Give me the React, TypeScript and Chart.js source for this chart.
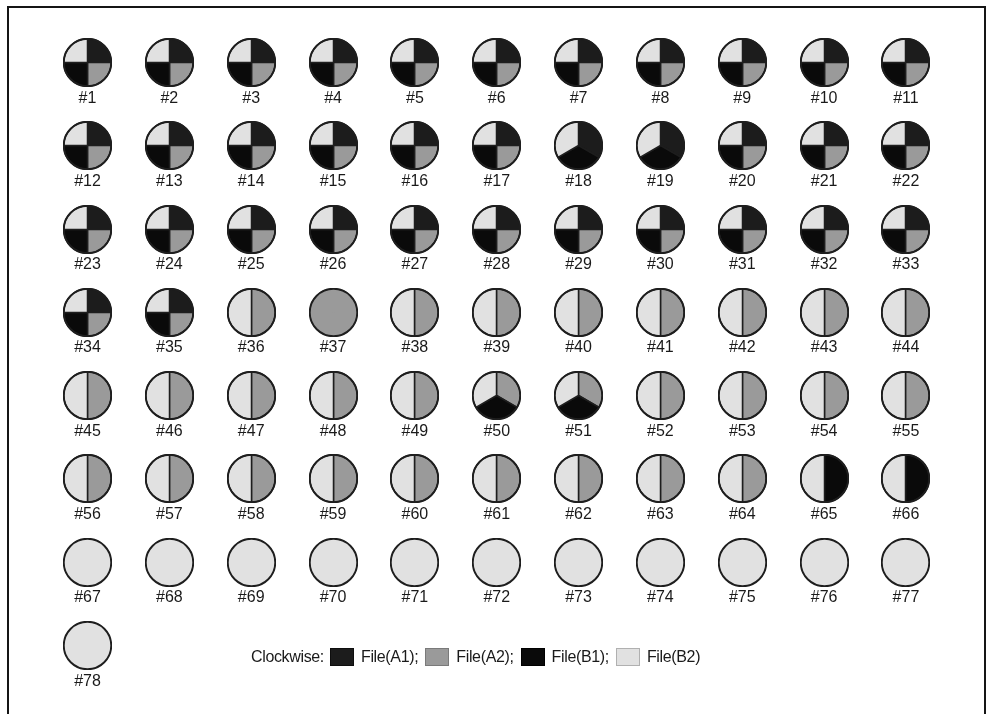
import React, { useEffect, useRef } from "react";
import { Chart, registerables } from "chart.js";

Chart.register(...registerables);

const categories = [
  "#1", "#2", "#3", "#4", "#5", "#6", "#7", "#8", "#9", "#10", "#11",
  "#12", "#13", "#14", "#15", "#16", "#17", "#18", "#19", "#20", "#21", "#22",
  "#23", "#24", "#25", "#26", "#27", "#28", "#29", "#30", "#31", "#32", "#33",
  "#34", "#35", "#36", "#37", "#38", "#39", "#40", "#41", "#42", "#43", "#44",
  "#45", "#46", "#47", "#48", "#49", "#50", "#51", "#52", "#53", "#54", "#55",
  "#56", "#57", "#58", "#59", "#60", "#61", "#62", "#63", "#64", "#65", "#66",
  "#67", "#68", "#69", "#70", "#71", "#72", "#73", "#74", "#75", "#76", "#77",
  "#78",
];

const seriesNames = ["File(A1)", "File(A2)", "File(B1)", "File(B2)"];

const fileA1 = [
  1, 1, 1, 1, 1, 1, 1, 1, 1, 1, 1,
  1, 1, 1, 1, 1, 1, 1, 1, 1, 1, 1,
  1, 1, 1, 1, 1, 1, 1, 1, 1, 1, 1,
  1, 1, 0, 0, 0, 0, 0, 0, 0, 0, 0,
  0, 0, 0, 0, 0, 0, 0, 0, 0, 0, 0,
  0, 0, 0, 0, 0, 0, 0, 0, 0, 0, 0,
  0, 0, 0, 0, 0, 0, 0, 0, 0, 0, 0,
  0,
];

const fileA2 = [
  1, 1, 1, 1, 1, 1, 1, 1, 1, 1, 1,
  1, 1, 1, 1, 1, 1, 0, 0, 1, 1, 1,
  1, 1, 1, 1, 1, 1, 1, 1, 1, 1, 1,
  1, 1, 1, 1, 1, 1, 1, 1, 1, 1, 1,
  1, 1, 1, 1, 1, 1, 1, 1, 1, 1, 1,
  1, 1, 1, 1, 1, 1, 1, 1, 1, 0, 0,
  0, 0, 0, 0, 0, 0, 0, 0, 0, 0, 0,
  0,
];

const fileB1 = [
  1, 1, 1, 1, 1, 1, 1, 1, 1, 1, 1,
  1, 1, 1, 1, 1, 1, 1, 1, 1, 1, 1,
  1, 1, 1, 1, 1, 1, 1, 1, 1, 1, 1,
  1, 1, 0, 0, 0, 0, 0, 0, 0, 0, 0,
  0, 0, 0, 0, 0, 1, 1, 0, 0, 0, 0,
  0, 0, 0, 0, 0, 0, 0, 0, 0, 1, 1,
  0, 0, 0, 0, 0, 0, 0, 0, 0, 0, 0,
  0,
];

const fileB2 = [
  1, 1, 1, 1, 1, 1, 1, 1, 1, 1, 1,
  1, 1, 1, 1, 1, 1, 1, 1, 1, 1, 1,
  1, 1, 1, 1, 1, 1, 1, 1, 1, 1, 1,
  1, 1, 1, 0, 1, 1, 1, 1, 1, 1, 1,
  1, 1, 1, 1, 1, 1, 1, 1, 1, 1, 1,
  1, 1, 1, 1, 1, 1, 1, 1, 1, 1, 1,
  1, 1, 1, 1, 1, 1, 1, 1, 1, 1, 1,
  1,
];

const fillColors = ["#1c1c1c", "#9a9a9a", "#0a0a0a", "#e1e1e1"];
const swatchBorders = ["#0e0e0e", "#7a7a7a", "#000000", "#b0b0b0"];
const lineColor = "#1e1e1e";
const textColor = "#1a1a1a";
const fontFamily = "'Liberation Sans', Arial, sans-serif";

const outerRing = {
  id: "outerRing",
  afterDatasetsDraw(chart: any) {
    const arcs = chart.getDatasetMeta(0).data as any[];
    const arc = arcs.find((a) => a.circumference > 0);
    if (!arc) return;
    const { x, y, outerRadius } = arc.getProps(["x", "y", "outerRadius"], true);
    const ctx = chart.ctx;
    ctx.save();
    ctx.beginPath();
    ctx.arc(x, y, outerRadius, 0, Math.PI * 2);
    ctx.lineWidth = 1.9;
    ctx.strokeStyle = lineColor;
    ctx.stroke();
    ctx.restore();
  },
};

function MiniPie({ index }: { index: number }) {
  const ref = useRef<HTMLCanvasElement | null>(null);
  useEffect(() => {
    if (!ref.current) return;
    const values = [fileA1[index], fileA2[index], fileB1[index], fileB2[index]];
    const nonZero = values.filter((v) => v > 0).length;
    const chart = new Chart(ref.current, {
      type: "pie",
      data: {
        labels: seriesNames,
        datasets: [
          {
            data: values,
            backgroundColor: fillColors,
            borderColor: nonZero === 1 ? fillColors : lineColor,
            borderWidth: 1.5,
          },
        ],
      },
      options: {
        responsive: false,
        animation: false,
        events: [],
        layout: { padding: 0 },
        plugins: {
          legend: { display: false },
          tooltip: { enabled: false },
          title: { display: false },
        },
      },
      plugins: [outerRing],
    });
    return () => chart.destroy();
  }, [index]);

  return (
    <div style={{ display: "flex", flexDirection: "column", alignItems: "center" }}>
      <canvas
        ref={ref}
        width={49}
        height={49}
        style={{ width: 49, height: 49, display: "block" }}
      />
      <div
        style={{
          marginTop: 2.5,
          fontSize: 16,
          lineHeight: "16px",
          fontFamily,
          color: textColor,
          whiteSpace: "nowrap",
        }}
      >
        {categories[index]}
      </div>
    </div>
  );
}

export default function App() {
  return (
    <div
      style={{
        position: "fixed",
        left: 0,
        top: 0,
        right: 0,
        bottom: 0,
        overflow: "hidden",
        background: "#ffffff",
      }}
    >
      <div
        style={{
          position: "absolute",
          left: 7,
          top: 6,
          width: 979,
          height: 800,
          border: "2px solid #151515",
          boxSizing: "border-box",
        }}
      />
      <div
        style={{
          position: "absolute",
          left: 46.6,
          top: 38,
          display: "grid",
          gridTemplateColumns: "repeat(11, 81.85px)",
          gridAutoRows: "83.3px",
        }}
      >
        {categories.map((c, i) => (
          <MiniPie key={c} index={i} />
        ))}
      </div>
      <div
        style={{
          position: "absolute",
          left: 251,
          top: 648,
          height: 18,
          display: "flex",
          alignItems: "center",
          fontFamily,
          fontSize: 16,
          letterSpacing: "-0.35px",
          color: textColor,
          whiteSpace: "nowrap",
        }}
      >
        <span style={{ marginRight: 6 }}>Clockwise:</span>
        {seriesNames.map((name, i) => (
          <React.Fragment key={name}>
            <span
              style={{
                display: "inline-block",
                width: 24,
                height: 18,
                boxSizing: "border-box",
                background: fillColors[i],
                border: `1px solid ${swatchBorders[i]}`,
                marginRight: 7,
                marginLeft: i === 0 ? 0 : 7,
              }}
            />
            <span>{name + (i < seriesNames.length - 1 ? ";" : "")}</span>
          </React.Fragment>
        ))}
      </div>
    </div>
  );
}
